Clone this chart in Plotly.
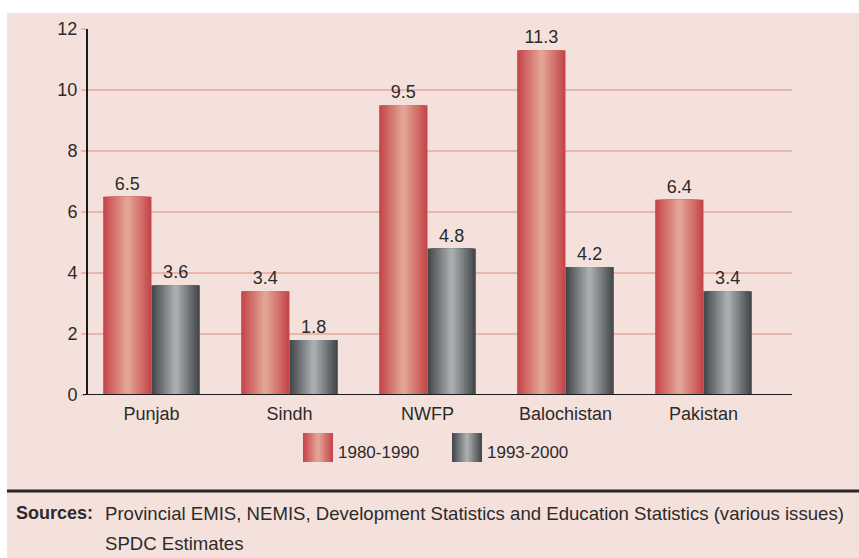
import plotly.graph_objects as go

regions = ["Punjab", "Sindh", "NWFP", "Balochistan", "Pakistan"]
series_names = ["1980-1990", "1993-2000"]
vals_1980 = [6.5, 3.4, 9.5, 11.3, 6.4]
vals_1993 = [3.6, 1.8, 4.8, 4.2, 3.4]
y_ticks = [0, 2, 4, 6, 8, 10, 12]

W, H = 859, 558
L, R, T, B = 88, 67, 29, 163
PW, PH = W - L - R, H - T - B
FONT = "Liberation Sans, Arial, sans-serif"
GRID = "#e8b6aa"
TXT = "#2b2b2b"


def px_x(p):
    return (p - L) / PW


def px_y(p):
    return (H - B - p) / PH


def mix(c1, c2, t):
    a = [int(c1[i:i + 2], 16) for i in (1, 3, 5)]
    b = [int(c2[i:i + 2], 16) for i in (1, 3, 5)]
    return "#" + "".join(f"{round(a[i] + (b[i] - a[i]) * t):02x}" for i in range(3))


# edge colour, centre colour for the cylinder-like shading
shades = {
    "1980-1990": ("#c5474a", "#e3a496"),
    "1993-2000": ("#45484b", "#abaeb1"),
}

N = 12
bar_w = 0.35
xs = list(range(len(regions)))

fig = go.Figure()
for s, (name, vals) in enumerate(zip(series_names, [vals_1980, vals_1993])):
    edge, centre = shades[name]
    centre_off = -bar_w / 2 if s == 0 else bar_w / 2
    for k in range(N):
        w = bar_w * (1 - k / N)
        fig.add_trace(go.Bar(
            x=xs,
            y=vals,
            width=w,
            offset=centre_off - w / 2,
            marker=dict(color=mix(edge, centre, k / (N - 1)), line_width=0),
            text=[f"{v:g}" for v in vals] if k == 0 else None,
            textposition="outside" if k == 0 else "none",
            textfont=dict(family=FONT, size=18, color=TXT),
            cliponaxis=False,
            showlegend=False,
            hoverinfo="skip" if k else None,
            name=name,
        ))

shapes = [
    # pink panel behind everything
    dict(type="rect", xref="paper", yref="paper", layer="below",
         x0=px_x(7), x1=px_x(W + 5), y0=px_y(13), y1=px_y(H + 5),
         fillcolor="#f5e1db", line_width=0),
    # separator above the sources
    dict(type="line", xref="paper", yref="paper",
         x0=px_x(7), x1=px_x(W + 5), y0=px_y(491), y1=px_y(491),
         line=dict(color="#2a2626", width=3)),
    # baseline
    dict(type="line", xref="paper", yref="y",
         x0=px_x(83), x1=px_x(792), y0=0, y1=0,
         line=dict(color="#1a1a1a", width=2)),
]

# legend swatches
legend_items = [(303, "1980-1990"), (452, "1993-2000")]
annotations = []
for x0, name in legend_items:
    edge, centre = shades[name]
    sw = 30
    for k in range(N):
        w = sw * (1 - k / N)
        cx = x0 + sw / 2
        shapes.append(dict(
            type="rect", xref="paper", yref="paper",
            x0=px_x(cx - w / 2), x1=px_x(cx + w / 2),
            y0=px_y(462), y1=px_y(433),
            fillcolor=mix(edge, centre, k / (N - 1)), line_width=0))
    annotations.append(dict(
        xref="paper", yref="paper", x=px_x(x0 + sw + 3), y=px_y(452),
        xanchor="left", yanchor="middle", text=name, showarrow=False,
        font=dict(family=FONT, size=17, color=TXT)))

annotations += [
    dict(xref="paper", yref="paper", x=px_x(14), y=px_y(513),
         xanchor="left", yanchor="middle", text="<b>Sources:</b>",
         showarrow=False, font=dict(family=FONT, size=18, color=TXT)),
    dict(xref="paper", yref="paper", x=px_x(103), y=px_y(513),
         xanchor="left", yanchor="middle",
         text="Provincial EMIS, NEMIS, Development Statistics and Education Statistics (various issues)",
         showarrow=False, font=dict(family=FONT, size=18.6, color=TXT)),
    dict(xref="paper", yref="paper", x=px_x(103), y=px_y(543),
         xanchor="left", yanchor="middle", text="SPDC Estimates",
         showarrow=False, font=dict(family=FONT, size=18.6, color=TXT)),
]

fig.update_layout(
    width=W,
    height=H,
    margin=dict(l=L, r=R, t=T, b=B, pad=0),
    paper_bgcolor="white",
    plot_bgcolor="rgba(0,0,0,0)",
    barmode="overlay",
    showlegend=False,
    shapes=shapes,
    annotations=annotations,
    xaxis=dict(
        range=[-0.46, -0.46 + PW / 138],
        tickvals=xs,
        ticktext=regions,
        showgrid=False,
        zeroline=False,
        showline=False,
        ticks="",
        ticklabelstandoff=6,
        tickfont=dict(family=FONT, size=18, color=TXT),
    ),
    yaxis=dict(
        range=[0, 12],
        tickvals=y_ticks,
        showgrid=True,
        gridcolor=GRID,
        gridwidth=2,
        zeroline=False,
        showline=True,
        linecolor="#1a1a1a",
        linewidth=2,
        ticks="outside",
        ticklen=5,
        tickwidth=2,
        tickcolor=GRID,
        tickfont=dict(family=FONT, size=18, color=TXT),
    ),
)

fig.write_html("out.html", config={"displayModeBar": False},
               post_script="document.body.style.margin='0';")
